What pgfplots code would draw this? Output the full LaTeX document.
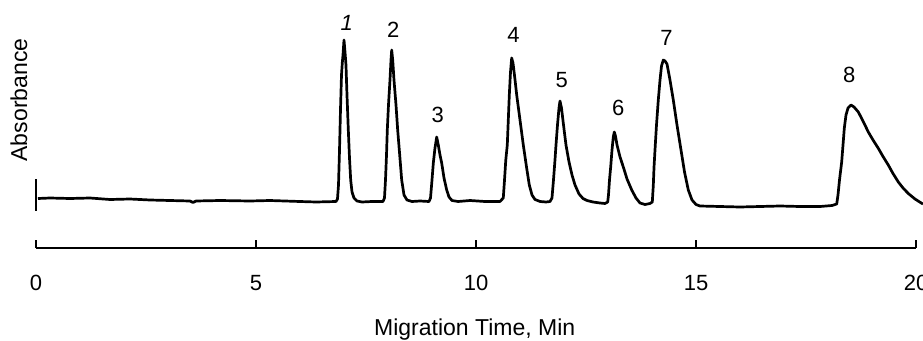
\documentclass[border=0pt]{standalone}
\usepackage{fontspec}
\setmainfont{Liberation Sans}
\usepackage{pgfplots}
\pgfplotsset{compat=1.18}
\begin{document}
\begin{tikzpicture}
\begin{axis}[
  scale only axis, width=880pt, height=248pt,
  xmin=0, xmax=20, ymin=0, ymax=248,
  clip=false,
  axis x line*=bottom, axis y line=none,
  xtick={0,5,10,15,20},
  major tick length=8pt,
  tick align=inside,
  every tick/.style={black, line width=1.5pt},
  x axis line style={line width=1.5pt},
  xticklabel style={anchor=base, yshift=-42pt, font=\fontsize{22}{26}\selectfont},
  /pgf/number format/assume math mode=true,
]
\coordinate (bl) at (axis cs:0,0);
\addplot[black, line width=2.7pt, line join=round, mark=none] coordinates {
(0.045,49.5) (0.318,50) (0.773,49.5) (1.227,50) (1.682,48.5) (2.136,49) (2.591,48)
(3.045,47.5) (3.5,47) (3.568,45.5) (3.636,47) (4.182,47.5) (4.864,47) (5.318,47.5)
(6.0,46.5) (6.364,46) (6.818,46.5)
(6.852,49) (6.875,63) (6.898,98) (6.920,138) (6.943,173) (6.961,185) (6.977,193)
(7.0,208) (7.023,196) (7.045,183) (7.068,153) (7.098,118) (7.125,90) (7.152,68)
(7.182,56) (7.227,50) (7.295,47) (7.409,46) (7.636,46.5)
(7.886,46.5) (7.920,50) (7.943,68) (7.966,93) (7.984,118) (8.011,143) (8.045,168)
(8.068,188) (8.084,198) (8.107,188) (8.136,168) (8.182,143) (8.220,118) (8.266,93)
(8.311,68) (8.364,53) (8.432,48) (8.545,46.5) (8.727,47)
(8.932,46.5) (8.966,50) (9.0,68) (9.030,85) (9.068,100) (9.107,111) (9.143,103)
(9.182,93) (9.220,85) (9.273,70) (9.334,58) (9.386,51) (9.455,47.5) (9.591,46.5)
(9.864,47.5) (10.205,46.5)
(10.545,46.5) (10.620,50) (10.648,68) (10.677,88) (10.711,103) (10.734,128)
(10.757,153) (10.784,176) (10.811,190) (10.841,185) (10.882,170) (10.925,153)
(11.0,128) (11.075,103) (11.148,81) (11.211,63) (11.273,53) (11.341,48.5)
(11.455,46.5) (11.591,46)
(11.682,46.5) (11.727,50) (11.761,68) (11.795,88) (11.818,103) (11.852,123)
(11.886,140) (11.909,147) (11.943,140) (11.989,123) (12.045,103) (12.114,86)
(12.182,73) (12.25,63) (12.341,54) (12.432,49.5) (12.523,47.5) (12.659,46) (12.818,45)
(12.932,44.5) (12.993,46) (13.011,53) (13.034,68) (13.061,81) (13.091,98) (13.120,111)
(13.143,116) (13.170,112) (13.205,103) (13.273,91) (13.348,81) (13.432,69)
(13.539,58) (13.636,50) (13.727,45) (13.841,43.5) (13.955,44.5)
(14.007,46) (14.030,63) (14.045,80) (14.068,98) (14.102,123) (14.143,148) (14.182,168)
(14.216,182) (14.257,188) (14.295,187) (14.341,184) (14.409,168) (14.484,148)
(14.568,123) (14.659,98) (14.739,76) (14.825,58) (14.909,48) (15.0,43.5) (15.091,42)
(15.545,41.5) (16.0,41) (16.455,41.5) (16.909,42) (17.364,41.5) (17.818,41.5) (18.091,42.5)
(18.198,44) (18.227,53) (18.261,68) (18.311,86) (18.341,103) (18.371,120) (18.409,133)
(18.455,140) (18.523,143) (18.591,141) (18.689,136) (18.795,127) (18.916,116)
(19.023,108) (19.143,99.7) (19.25,91.5) (19.370,83) (19.477,74.5) (19.598,66)
(19.705,60) (19.825,54.5) (19.977,49) (20.130,44.7) (20.159,44)
};
\addplot[black, line width=2.2pt, mark=none] coordinates {(0,37.3) (0,68.7)};
\node[font=\fontsize{22}{26}\selectfont\itshape] at (axis cs:7.06,225) {1};
\node[font=\fontsize{22}{26}\selectfont] at (axis cs:8.12,218) {2};
\node[font=\fontsize{22}{26}\selectfont] at (axis cs:9.13,133) {3};
\node[font=\fontsize{22}{26}\selectfont] at (axis cs:10.85,213) {4};
\node[font=\fontsize{22}{26}\selectfont] at (axis cs:11.95,168) {5};
\node[font=\fontsize{22}{26}\selectfont] at (axis cs:13.23,140) {6};
\node[font=\fontsize{22}{26}\selectfont] at (axis cs:14.33,210) {7};
\node[font=\fontsize{22}{26}\selectfont] at (axis cs:18.48,173) {8};
\node[rotate=90, font=\fontsize{23}{27}\selectfont] at (axis cs:-0.386,148) {Absorbance};
\node[anchor=base, yshift=-87pt, font=\fontsize{23}{27}\selectfont] at (axis cs:9.97,0) {Migration Time, Min};
\end{axis}
\pgfresetboundingbox
\path[use as bounding box] ([xshift=-36pt,yshift=-92pt]bl) rectangle ([xshift=887pt,yshift=248pt]bl);
\end{tikzpicture}
\end{document}
